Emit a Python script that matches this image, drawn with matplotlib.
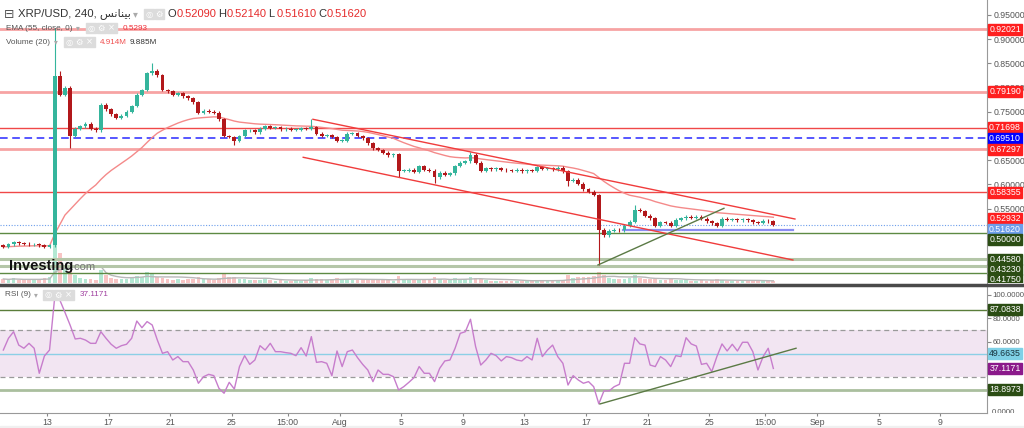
import matplotlib
matplotlib.use("Agg")
import matplotlib.pyplot as plt
import matplotlib.dates as mdates
from matplotlib.font_manager import FontProperties
from matplotlib.patches import Rectangle
from matplotlib.lines import Line2D
from matplotlib.transforms import Bbox, TransformedBbox
import numpy as np
import pandas as pd

plt.rcParams['font.family'] = ['Liberation Sans', 'DejaVu Sans']


def axis_font(size=6.3):
    return FontProperties(family='Liberation Sans', size=size)


W, H = 1024, 428

start = pd.Timestamp('2023-07-10')
closes = [
    0.471, 0.476, 0.480, 0.478, 0.477, 0.476, 0.476, 0.474, 0.471, 0.474,
    0.823, 0.785, 0.800, 0.700, 0.715, 0.720, 0.725, 0.715, 0.712, 0.765,
    0.755, 0.745, 0.738, 0.742, 0.750, 0.762, 0.785, 0.795, 0.830, 0.835,
    0.825, 0.795, 0.792, 0.785, 0.788, 0.782, 0.778, 0.770, 0.748, 0.752,
    0.750, 0.748, 0.735, 0.700, 0.698, 0.690, 0.700, 0.712, 0.712, 0.708,
    0.715, 0.720, 0.717, 0.718, 0.714, 0.715, 0.713, 0.713, 0.716, 0.715,
    0.718, 0.705, 0.700, 0.702, 0.698, 0.690, 0.690, 0.705, 0.706, 0.700,
    0.695, 0.685, 0.675, 0.671, 0.665, 0.660, 0.662, 0.628, 0.628, 0.630,
    0.626, 0.637, 0.630, 0.628, 0.615, 0.624, 0.620, 0.623, 0.638, 0.645,
    0.648, 0.661, 0.645, 0.628, 0.633, 0.631, 0.633, 0.630, 0.629, 0.628,
    0.630, 0.627, 0.629, 0.628, 0.635, 0.632, 0.633, 0.631, 0.634, 0.627,
    0.608, 0.610, 0.601, 0.590, 0.585, 0.578, 0.506, 0.495, 0.504, 0.506,
    0.505, 0.515, 0.523, 0.548, 0.545, 0.535, 0.530, 0.515, 0.522, 0.521,
    0.515, 0.527, 0.530, 0.533, 0.531, 0.533, 0.529, 0.524, 0.520, 0.515,
    0.529, 0.527, 0.528, 0.526, 0.528, 0.526, 0.522, 0.521, 0.525, 0.524, 0.5162,
]
first_open = 0.474
# long wicks that stand out (bar index -> price)
wick_highs = {10: 0.923, 11: 0.835, 29: 0.850, 60: 0.735, 91: 0.667, 123: 0.557}
wick_lows = {13: 0.675, 45: 0.681, 77: 0.615, 84: 0.603, 110: 0.596, 116: 0.434}

volumes = [  # millions
    10, 8, 12, 8, 7, 9, 8, 10, 12, 15,
    175, 75, 40, 30, 20, 12, 10, 9, 8, 32,
    20, 12, 10, 9, 10, 12, 18, 15, 28, 22,
    15, 12, 10, 8, 9, 8, 10, 9, 14, 10,
    9, 8, 12, 25, 15, 14, 10, 9, 8, 7,
    8, 9, 7, 6, 7, 6, 6, 7, 6, 7,
    12, 10, 9, 8, 10, 12, 9, 10, 8, 7,
    8, 9, 8, 7, 8, 7, 6, 18, 10, 8,
    7, 9, 7, 8, 14, 9, 7, 8, 12, 10,
    9, 15, 12, 10, 7, 6, 6, 5, 6, 5,
    5, 6, 5, 6, 8, 6, 5, 6, 7, 8,
    20, 12, 14, 16, 14, 18, 28, 20, 12, 10,
    9, 10, 12, 20, 12, 10, 9, 10, 8, 8,
    9, 8, 7, 8, 6, 6, 7, 6, 8, 9,
    8, 6, 6, 5, 5, 6, 5, 6, 5, 5, 4.914,
]

rsi = [
    52.8, 62.8, 68.4, 57.0, 54.3, 58.5, 54.3, 33.0, 47.7, 52.8,
    97.4, 95.4, 84.9, 74.1, 62.2, 62.8, 61.3, 58.5, 58.5, 68.4,
    62.8, 57.7, 54.3, 56.5, 57.7, 62.8, 77.5, 71.8, 77.0, 74.1,
    61.3, 50.0, 51.4, 44.3, 47.2, 42.9, 42.9, 35.8, 24.5, 30.1,
    32.1, 31.0, 20.2, 16.0, 25.3, 19.6, 38.7, 48.0, 40.6, 44.3,
    56.5, 52.8, 58.5, 51.4, 51.4, 50.6, 50.0, 48.0, 54.8, 47.7,
    64.2, 42.3, 42.9, 41.5, 31.0, 52.0, 38.7, 51.4, 52.8, 46.3,
    40.6, 35.8, 25.9, 35.8, 32.1, 32.1, 30.1, 18.8, 21.6, 25.3,
    29.3, 38.7, 33.0, 33.0, 25.9, 37.2, 43.5, 44.3, 54.3, 67.0,
    68.4, 79.0, 55.7, 40.0, 44.3, 50.0, 48.0, 43.5, 47.2, 46.3,
    44.3, 43.5, 47.2, 44.3, 62.8, 47.2, 52.8, 57.0, 47.2, 41.5,
    23.0, 31.0, 27.3, 24.5, 25.9, 21.6, 7.0, 18.0, 18.0, 21.6,
    23.6, 41.5, 41.5, 63.3, 58.0, 57.0, 40.0, 38.7, 47.2, 44.3,
    38.7, 48.0, 47.2, 63.3, 58.0, 56.2, 40.6, 41.5, 34.4, 47.2,
    58.0, 52.0, 57.7, 52.0, 59.4, 59.4, 51.4, 35.8, 47.2, 54.3, 37.1171,
]

resistance = [0.92021, 0.79190, 0.71698, 0.69510, 0.67297, 0.58355]
support = [0.50000, 0.44580, 0.43230, 0.41750]
last_price = 0.51620
ema_last = 0.52932
range_low = (0.5052, '2023-08-19 09:30', '2023-08-30 10:30')

upper_channel = [('2023-07-30 06:30', 0.7345), ('2023-08-30 13:40', 0.5285)]
lower_channel = [('2023-07-29 15:20', 0.6560), ('2023-08-30 10:30', 0.4438)]
price_trend = [('2023-08-17 18:40', 0.4335), ('2023-08-25 23:00', 0.5506)]
rsi_trend = [('2023-08-17 21:50', 6.9), ('2023-08-30 15:20', 54.3)]

rsi_marks = [87.0838, 49.6635, 18.8973]
rsi_last = 37.1171

price_ticks = [0.55, 0.60, 0.65, 0.75, 0.80, 0.85, 0.90, 0.95]
rsi_ticks = [0, 60, 80, 100]

tick_times = ['2023-07-13 00:00', '2023-07-17 00:00', '2023-07-21 00:00', '2023-07-25 00:00',
              '2023-07-28 15:00', '2023-08-01 00:00', '2023-08-05 00:00', '2023-08-09 00:00',
              '2023-08-13 00:00', '2023-08-17 00:00', '2023-08-21 00:00', '2023-08-25 00:00',
              '2023-08-28 15:00', '2023-09-01 00:00', '2023-09-05 00:00', '2023-09-09 00:00']
tick_labels = ['13', '17', '21', '25', '15:00', 'Aug', '5', '9', '13', '17', '21', '25',
               '15:00', 'Sep', '5', '9']

# ---------------------------------------------------------------
n = len(closes)
times = start + pd.to_timedelta(np.arange(n) * 8 + 4, unit='h')
x = mdates.date2num(times)
c = np.array(closes)
o = np.r_[first_open, c[:-1]]
hi = np.maximum(o, c) + 0.003
lo = np.minimum(o, c) - 0.003
for k, v in wick_highs.items():
    hi[k] = v
for k, v in wick_lows.items():
    lo[k] = v
up = c >= o
ema = pd.Series(c).ewm(span=28, adjust=False).mean()
vol = np.array(volumes)
vol_ma = pd.Series(vol).rolling(10, min_periods=1).mean()


def to_num(strings):
    return mdates.date2num(pd.to_datetime(list(strings), format='%Y-%m-%d %H:%M'))


x0 = mdates.date2num(start)
xlim = (x0 - 0.05, x0 + 64.04)

GREEN, RED = '#35b59c', '#b2181b'
RSI_BOTTOM = 413.3

fig = plt.figure(figsize=(W / 100, H / 100), dpi=100)
ax = fig.add_axes([0, 1 - 283 / H, 987 / W, 283 / H])
axv = ax.twinx()
axr = fig.add_axes([0, 1 - RSI_BOTTOM / H, 987 / W, (RSI_BOTTOM - 286) / H])

ax.set_zorder(2)
ax.patch.set_visible(False)
axv.set_zorder(1)

# volume
axv.bar(x, vol, width=0.24, color=np.where(up, '#b3e8d3', '#f8c4c4'), linewidth=0)
axv.plot(x, vol_ma, color='#b8b8b8', lw=1)
axv.set_ylim(0, 700)
axv.set_axis_off()

# candles
ax.vlines(x, lo, hi, colors=np.where(up, GREEN, RED), lw=0.8, zorder=3)
body_h = np.maximum(np.abs(c - o), 0.0012)
ax.bar(x, body_h, bottom=np.minimum(o, c), width=0.25,
       color=np.where(up, GREEN, RED), linewidth=0, zorder=4)
ax.plot(x, ema, color='#f48a8a', lw=1, zorder=2)

# horizontal levels
res_style = [('#f7a3a3', 2.0, '-'), ('#f7a3a3', 2.0, '-'), ('#f04848', 1.0, '-'),
             ('#2828ff', 1.1, (0, (5, 3))), ('#f7a3a3', 2.0, '-'), ('#f04848', 1.0, '-')]
for lvl, (col, lw, ls) in zip(resistance, res_style):
    ax.axhline(lvl, color=col, lw=lw, ls=ls, zorder=1)
sup_style = [('#5d8a43', 1.0), ('#b4c6a8', 2.2), ('#b4c6a8', 2.2), ('#5d8a43', 1.0)]
for lvl, (col, lw) in zip(support, sup_style):
    ax.axhline(lvl, color=col, lw=lw, zorder=1)
ax.axhline(last_price, color='#6d9eeb', lw=0.8, ls=(0, (1, 1.5)), zorder=1)
ax.plot(to_num(range_low[1:]), [range_low[0]] * 2, color='#8b8ef2', lw=1.6, zorder=1)

for line, col in [(upper_channel, '#f03c3c'), (lower_channel, '#f03c3c'), (price_trend, '#5b7a45')]:
    ax.plot(to_num(p[0] for p in line), [p[1] for p in line], color=col, lw=1, zorder=5)

ax.set_xlim(xlim)
ax.set_ylim(0.39628, 0.98099)
axv.set_xlim(xlim)
ax.yaxis.tick_right()
ax.set_yticks(price_ticks)
ax.set_yticklabels([f'{t:.5f}' for t in price_ticks])
ax.tick_params(axis='y', colors='#888', labelcolor='#555', length=3, pad=2)
ax.tick_params(axis='x', bottom=False, labelbottom=False)
for lbl in ax.get_yticklabels():
    lbl.set_fontproperties(axis_font())
for s in ['left', 'top', 'bottom']:
    ax.spines[s].set_visible(False)
ax.spines['right'].set_color('#999')

# RSI panel
axr.axhspan(30, 70, color='#f2e5f2', lw=0)
axr.axhline(70, color='#9a9a9a', lw=0.9, ls=(0, (4, 3)))
axr.axhline(30, color='#9a9a9a', lw=0.9, ls=(0, (4, 3)))
axr.axhline(rsi_marks[0], color='#5a7d3a', lw=1)
axr.axhline(rsi_marks[1], color='#8ccfe6', lw=1)
axr.axhline(rsi_marks[2], color='#aabf9e', lw=2)
axr.plot(x, rsi, color='#c77dcc', lw=1, zorder=3)
axr.plot(to_num(p[0] for p in rsi_trend), [p[1] for p in rsi_trend], color='#5b7a45', lw=1, zorder=4)
axr.set_xlim(xlim)
axr.set_ylim(-1.06, 107.3)
axr.yaxis.tick_right()
shown = [t for t in rsi_ticks if t > 0]
axr.set_yticks(shown)
axr.set_yticklabels([f'{t:.4f}' for t in shown])
axr.tick_params(axis='y', colors='#888', labelcolor='#555', length=3, pad=1)
axr.set_xticks(to_num(tick_times))
axr.set_xticklabels(tick_labels)
axr.tick_params(axis='x', colors='#888', labelcolor='#555', length=2, pad=1.5)
for lbl in axr.get_yticklabels():
    lbl.set_fontproperties(axis_font(5.6))
for lbl in axr.get_xticklabels():
    lbl.set_fontproperties(axis_font())
for s in ['left', 'top']:
    axr.spines[s].set_visible(False)
axr.spines['right'].set_color('#999')
axr.spines['bottom'].set_color('#999')

# separator between panels, grey strip at the very bottom
fig.add_artist(Line2D([0, 1], [1 - 284.5 / H] * 2, transform=fig.transFigure,
                      color='#4a4a4a', lw=2.5, zorder=20))
fig.add_artist(Rectangle((0, 0), 1, 2 / H, transform=fig.transFigure, color='#f0f0f0', zorder=-1))

main_clip = TransformedBbox(Bbox([[0.9, 1 - 283 / H], [1, 1]]), fig.transFigure)
rsi_clip = TransformedBbox(Bbox([[0.9, 1 - RSI_BOTTOM / H], [1, 1 - 286 / H]]), fig.transFigure)


def tag(axis, val, text, bg, fg='white', dy=0, clip=None):
    y_px = axis.transData.transform((xlim[0], val))[1] - dy
    yf = y_px / H
    r = Rectangle((988 / W, yf - 5.5 / H), 34 / W, 11 / H, transform=fig.transFigure,
                  color=bg, zorder=10)
    fig.add_artist(r)
    t = fig.text(1005 / W, yf, text, color=fg, ha='center', va='center', zorder=11,
                 fontproperties=axis_font())
    if clip is not None:
        r.set_clip_box(clip)
        r.set_clip_on(True)
        t.set_clip_box(clip)
        t.set_clip_on(True)


TAG_RED, TAG_GREEN = '#ff1f1f', '#2b4d14'
for lvl, bg in zip(resistance, [TAG_RED, TAG_RED, TAG_RED, '#0000ff', TAG_RED, TAG_RED]):
    tag(ax, lvl, f'{lvl:.5f}', bg)
tag(ax, ema_last, f'{ema_last:.5f}', TAG_RED)
tag(ax, last_price, f'{last_price:.5f}', '#6d9eeb', dy=4.7)
for lvl, dy in zip(support, [7, 0, 4.2, 6.7]):
    tag(ax, lvl, f'{lvl:.5f}', TAG_GREEN, dy=dy, clip=main_clip)

tag(axr, rsi_marks[0], f'{rsi_marks[0]:.4f}', TAG_GREEN)
tag(axr, rsi_marks[1], f'{rsi_marks[1]:.4f}', '#7fd0e6', fg='#17323d')
tag(axr, rsi_last, f'{rsi_last:.4f}', '#8b1a8b')
tag(axr, rsi_marks[2], f'{rsi_marks[2]:.4f}', TAG_GREEN)
zero_y = axr.transData.transform((xlim[0], rsi_ticks[0]))[1] / H
t0 = fig.text(992 / W, zero_y, f'{rsi_ticks[0]:.4f}', color='#555', va='center',
              fontproperties=axis_font(5.6))
t0.set_clip_box(rsi_clip)
t0.set_clip_on(True)


# legends
def fx(px):
    return px / W


def fy(py):
    return 1 - py / H


def icons(xs, y, glyphs):
    for k, g in enumerate(glyphs):
        fig.add_artist(Rectangle((fx(xs + k * 10.5), fy(y + 5)), 9.5 / W, 10 / H,
                                 transform=fig.transFigure, color='#dcdcdc', zorder=12))
        fig.text(fx(xs + k * 10.5 + 4.75), fy(y), g, fontsize=6, color='white',
                 ha='center', va='center', zorder=13, family='DejaVu Sans')


arabic = '\uFEB2\uFEE7\uFE8E\uFEE8\uFEF4\uFE91'
fig.text(fx(4), fy(14), '\u229f', fontsize=9, color='#555', va='center', family='DejaVu Sans')
fig.text(fx(18), fy(14), 'XRP/USD, 240, ' + arabic, fontsize=8.2, color='#333',
         va='center', family=['Liberation Sans', 'DejaVu Sans'])
fig.text(fx(133), fy(14), '\u25be', fontsize=7, color='#aaa', va='center', family='DejaVu Sans')
icons(144, 14, ['\u25ce', '\u2699'])
for k, (lab, val) in enumerate([('O', '0.52090'), ('H', '0.52140'), ('L', '0.51610'), ('C', '0.51620')]):
    fig.text(fx(168 + 50 * k), fy(14), lab, fontsize=8, color='#333', va='center')
    fig.text(fx(177 + 50 * k), fy(14), val, fontsize=8, color='#e52b2b', va='center')


def small(px, py, text, color):
    fig.text(fx(px), fy(py), text, color=color, va='center', fontproperties=axis_font(5.9))


def caret(px, py):
    fig.text(fx(px), fy(py), '\u25be', fontsize=5.5, color='#aaa', va='center', family='DejaVu Sans')


small(6, 28, 'EMA (55, close, 0)', '#555')
caret(76, 28)
icons(86, 28, ['\u25ce', '\u2699', '\u00d7'])
small(123, 28, '0.5293', '#f0303a')

small(6, 42, 'Volume (20)', '#555')
caret(54, 42)
icons(64, 42, ['\u25ce', '\u2699', '\u00d7'])
small(100, 42, '4.914M', '#f05050')
small(130, 42, '9.885M', '#333')

small(5, 295, 'RSI (9)', '#555')
caret(34, 295)
icons(43, 295, ['\u25ce', '\u2699', '\u00d7'])
small(80, 295, f'{rsi_last:.4f}', '#a040a0')

# watermark
fig.text(fx(9), fy(266), 'Investing', fontsize=10.5, fontweight='bold', color='#111',
         va='center', zorder=15)
fig.text(fx(71), fy(267), '.com', fontsize=8, color='#777', va='center', zorder=15)

fig.savefig('out.png', dpi=100)
